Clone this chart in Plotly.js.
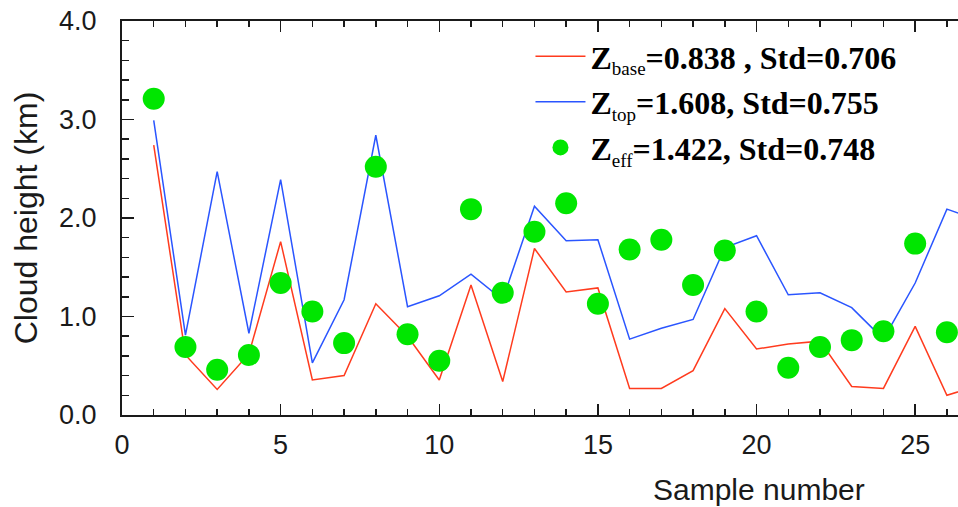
<!DOCTYPE html>
<html>
<head>
<meta charset="utf-8">
<script src="https://cdn.plot.ly/plotly-3.0.1.min.js"></script>
<style>
  html, body { margin: 0; padding: 0; background: #fff; }
  #chart { width: 958px; height: 507px; }
</style>
</head>
<body>
<div id="chart"></div>
<script>
// Sample indices for the cloud-height series
const sampleNo = [1, 2, 3, 4, 5, 6, 7, 8, 9, 10, 11, 12, 13, 14, 15, 16, 17, 18, 19, 20, 21, 22, 23, 24, 25, 26, 27];
const effSampleNo = [1, 2, 3, 4, 5, 6, 7, 8, 9, 10, 11, 12, 13, 14, 15, 16, 17, 18, 19, 20, 21, 22, 23, 24, 25, 26];

// Cloud base height (km)
const zBase = [2.74, 0.61, 0.26, 0.62, 1.76, 0.355, 0.40, 1.13, 0.80, 0.355, 1.32, 0.34, 1.69, 1.25, 1.29,
               0.27, 0.27, 0.45, 1.08, 0.67, 0.72, 0.75, 0.29, 0.27, 0.90, 0.20, 0.30];
// Cloud top height (km)
const zTop = [2.99, 0.81, 2.47, 0.83, 2.39, 0.53, 1.17, 2.84, 1.10, 1.21, 1.43, 1.17, 2.12, 1.77, 1.78,
              0.77, 0.88, 0.97, 1.70, 1.82, 1.22, 1.24, 1.09, 0.77, 1.34, 2.09, 1.98];
// Effective cloud height (km)
const zEff = [3.21, 0.69, 0.46, 0.61, 1.34, 1.05, 0.73, 2.52, 0.82, 0.55, 2.09, 1.24, 1.86, 2.15, 1.13,
              1.68, 1.78, 1.32, 1.67, 1.05, 0.48, 0.69, 0.76, 0.85, 1.74, 0.84];

// Legend labels (small, light subscripts)
const subStyle = 'font-weight:normal;font-size:19px';
const nameBase = 'Z<sub><span style="' + subStyle + '">base</span></sub>=0.838 , Std=0.706';
const nameTop = 'Z<sub><span style="' + subStyle + '">top</span></sub>=1.608, Std=0.755';
const nameEff = 'Z<sub><span style="' + subStyle + '">eff</span></sub>=1.422, Std=0.748';

const xTickVals = [0, 5, 10, 15, 20, 25];
const yTickVals = [0, 1, 2, 3, 4];

const RED = '#ff3b1e';
const BLUE = '#2a55ff';
const GREEN = '#00e600';
const INK = '#1a1a1a';
const SANS = '"Liberation Sans", Arial, sans-serif';

const traces = [
  {
    x: sampleNo, y: zBase, name: nameBase, type: 'scatter', mode: 'lines',
    line: { color: RED, width: 1.5 }, legendgroup: 'a'
  },
  {
    x: sampleNo, y: zTop, name: nameTop, type: 'scatter', mode: 'lines',
    line: { color: BLUE, width: 1.5 }, legendgroup: 'b'
  },
  {
    x: effSampleNo, y: zEff, name: nameEff, type: 'scatter', mode: 'markers',
    marker: { color: GREEN, size: 22, line: { width: 0 } }, legendgroup: 'c'
  }
];

const layout = {
  width: 958,
  height: 507,
  margin: { l: 122, r: 0, t: 21, b: 92 },
  paper_bgcolor: '#ffffff',
  plot_bgcolor: '#ffffff',
  showlegend: true,
  legend: {
    x: 0.4886, y: 0.98, xanchor: 'left', yanchor: 'top',
    bgcolor: 'rgba(0,0,0,0)',
    traceorder: 'grouped',
    tracegroupgap: 1,
    itemwidth: 50,
    itemsizing: 'trace',
    font: { family: '"Liberation Serif", "Times New Roman", serif', size: 32, color: '#000', weight: 'bold' }
  },
  xaxis: {
    range: [0, 26.35],
    showgrid: false, zeroline: false,
    showline: true, linecolor: INK, linewidth: 2,
    mirror: 'ticks',
    ticks: 'inside', ticklen: 11, tickwidth: 1.5, tickcolor: INK,
    tickvals: xTickVals,
    ticktext: xTickVals.map(String),
    ticklabelstandoff: 5,
    minor: { dtick: 1, ticks: 'inside', ticklen: 6, tickwidth: 1.5, tickcolor: INK, showgrid: false },
    tickfont: { family: SANS, size: 27, color: INK }
  },
  yaxis: {
    range: [0, 4],
    showgrid: false, zeroline: false,
    showline: true, linecolor: INK, linewidth: 2,
    ticks: 'inside', ticklen: 12, tickwidth: 1.5, tickcolor: INK,
    tickvals: yTickVals,
    ticktext: yTickVals.map(v => v.toFixed(1)),
    ticklabelstandoff: 18,
    minor: { dtick: 0.2, ticks: 'inside', ticklen: 7, tickwidth: 1.5, tickcolor: INK, showgrid: false },
    tickfont: { family: SANS, size: 27, color: INK },
    title: { text: 'Cloud height (km)', font: { family: SANS, size: 32, color: INK }, standoff: 12 }
  },
  annotations: [
    {
      text: 'Sample number', xref: 'paper', yref: 'paper',
      x: 0.762, y: 0, yshift: -74, xanchor: 'center', yanchor: 'middle',
      showarrow: false,
      font: { family: SANS, size: 30, color: INK }
    }
  ]
};

Plotly.newPlot('chart', traces, layout, { staticPlot: true, displayModeBar: false });
</script>
</body>
</html>
